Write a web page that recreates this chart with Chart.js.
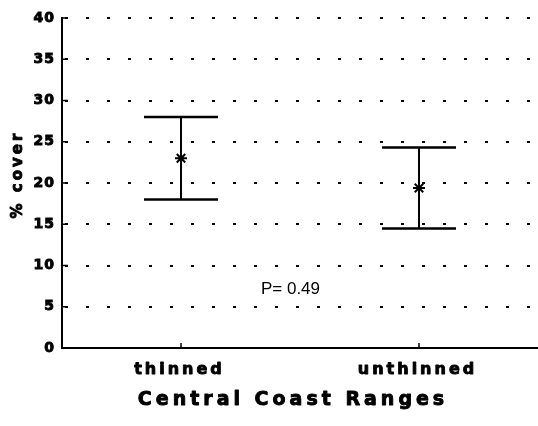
<!DOCTYPE html>
<html>
<head>
<meta charset="utf-8">
<script src="https://cdn.jsdelivr.net/npm/chart.js@4/dist/chart.umd.min.js"></script>
<style>
  html, body { margin: 0; padding: 0; background: #fff; }
  #wrap { width: 538px; height: 426px; }
</style>
</head>
<body>
<div id="wrap"><canvas id="chart"></canvas></div>
<script>
const categories = ['thinned', 'unthinned'];
const meanCover = [23.0, 19.4];
const upperCover = [28.0, 24.3];
const lowerCover = [18.0, 14.5];
const yTicks = [0, 5, 10, 15, 20, 25, 30, 35, 40];
const xTitle = 'Central Coast Ranges';
const yTitle = '% cover';
const pNote = { text: 'P= 0.49', x: 0.46, y: 7.1 };

const boldFamily = '"DejaVu Sans", Arial, sans-serif';
const plainFamily = 'Arial, "Liberation Sans", sans-serif';

function spacedText(ctx, text, x, y, font, spacing) {
    ctx.font = font;
    ctx.letterSpacing = spacing + 'px';
    ctx.lineWidth = 0.9;
    ctx.lineJoin = 'round';
    // letterSpacing adds trailing space too, shift half of it back
    ctx.fillText(text, x + spacing / 2, y);
    ctx.strokeText(text, x + spacing / 2, y);
    ctx.letterSpacing = '0px';
}

// error bars, inner ticks and all spaced-out labels
const errorBars = {
    id: 'errorBars',
    beforeDraw(chart) {
        chart.ctx.letterSpacing = '1px';
    },
    beforeDatasetsDraw(chart) {
        chart.ctx.letterSpacing = '0px';
    },
    afterDatasetsDraw(chart) {
        const { ctx, scales: { x, y }, chartArea } = chart;
        ctx.save();
        ctx.strokeStyle = '#000';
        ctx.fillStyle = '#000';
        categories.forEach((c, i) => {
            const px = x.getPixelForValue(i);
            const top = y.getPixelForValue(upperCover[i]);
            const bot = y.getPixelForValue(lowerCover[i]);
            const half = 37;
            ctx.lineWidth = 2;
            ctx.beginPath();
            ctx.moveTo(px, top);
            ctx.lineTo(px, bot);
            ctx.stroke();
            ctx.lineWidth = 2.5;
            ctx.beginPath();
            ctx.moveTo(px - half, top);
            ctx.lineTo(px + half, top);
            ctx.moveTo(px - half, bot);
            ctx.lineTo(px + half, bot);
            ctx.stroke();
            // category tick pointing inward
            ctx.lineWidth = 1.5;
            ctx.beginPath();
            ctx.moveTo(px, chartArea.bottom);
            ctx.lineTo(px, chartArea.bottom - 5);
            ctx.stroke();
            ctx.textAlign = 'center';
            ctx.textBaseline = 'middle';
            spacedText(ctx, c, px - 3, chartArea.bottom + 22, 'bold 16px ' + boldFamily, 3);
        });
        ctx.lineWidth = 1.5;
        yTicks.forEach((v) => {
            const py = y.getPixelForValue(v);
            ctx.beginPath();
            ctx.moveTo(chartArea.left, py);
            ctx.lineTo(chartArea.left + 6, py);
            ctx.stroke();
        });
        ctx.textAlign = 'center';
        ctx.textBaseline = 'middle';
        spacedText(ctx, xTitle, (chartArea.left + chartArea.right) / 2 - 9, chartArea.bottom + 52, 'bold 19px ' + boldFamily, 4);

        ctx.save();
        ctx.translate(18, (chartArea.top + chartArea.bottom) / 2 - 7);
        ctx.rotate(-Math.PI / 2);
        spacedText(ctx, yTitle, 0, 0, 'bold 15px ' + boldFamily, 3);
        ctx.restore();

        ctx.font = '17px ' + plainFamily;
        ctx.fillText(pNote.text, x.getPixelForValue(pNote.x), y.getPixelForValue(pNote.y));
        ctx.restore();
    }
};

new Chart(document.getElementById('chart'), {
    type: 'line',
    data: {
        labels: categories,
        datasets: [{
            label: 'mean',
            data: meanCover,
            showLine: false,
            pointStyle: 'star',
            pointRadius: 6,
            pointBorderWidth: 2,
            borderColor: '#000',
            backgroundColor: '#000',
        }],
    },
    options: {
        responsive: true,
        maintainAspectRatio: false,
        animation: false,
        layout: { autoPadding: false, padding: { top: 18, right: 0, left: 0, bottom: 0 } },
        plugins: {
            legend: { display: false },
            tooltip: { enabled: false },
        },
        scales: {
            x: {
                type: 'category',
                offset: true,
                grid: { display: false, drawTicks: false },
                border: { display: true, color: '#000', width: 2 },
                ticks: { display: false },
                afterFit: (s) => { s.height = 78; },
            },
            y: {
                min: 0,
                max: 40,
                afterBuildTicks: (s) => { s.ticks = yTicks.map((v) => ({ value: v })); },
                grid: {
                    color: '#000',
                    lineWidth: 2,
                    drawTicks: false,
                },
                border: { display: true, color: '#000', width: 2, dash: [3, 18], dashOffset: -2 },
                ticks: {
                    color: '#000',
                    padding: 7,
                    textStrokeColor: '#000',
                    textStrokeWidth: 0.9,
                    font: { family: boldFamily, size: 14, weight: 'bold' },
                },
                afterFit: (s) => { s.width = 62; },
            },
        },
    },
    plugins: [errorBars],
});
</script>
</body>
</html>
